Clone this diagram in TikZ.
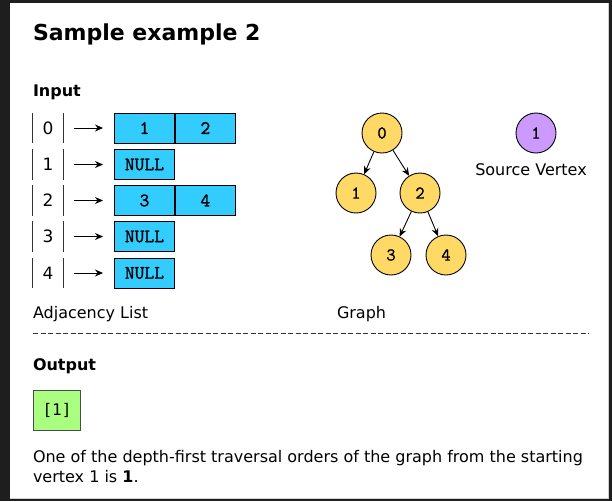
\documentclass[tikz,border=0pt]{standalone}
\usepackage{fontspec}
\setmainfont{DejaVu Sans}
\newfontfamily\codefont[FakeBold=1.2]{Latin Modern Mono}
\newfontfamily\brfont{DejaVu Sans Mono}
\usetikzlibrary{arrows.meta}
\definecolor{darkbg}{HTML}{1E1E1E}
\definecolor{edgegray}{HTML}{D0D0D0}
\definecolor{cellblue}{HTML}{33CCFF}
\definecolor{vyellow}{HTML}{FFD966}
\definecolor{vpurple}{HTML}{CC99FF}
\definecolor{outgreen}{HTML}{AAFF80}
\tikzset{
  txt/.style={inner sep=0pt, outer sep=0pt},
  idxcell/.style={minimum width=30pt, minimum height=30pt, inner sep=0pt, font=\fontsize{17}{19}\selectfont},
  cellbox/.style={draw=black, line width=0.9pt, fill=cellblue, minimum width=60pt, minimum height=30pt, inner sep=0pt, anchor=west, font=\codefont\fontsize{19}{21}\selectfont},
  vertex/.style={circle, draw=black, line width=0.9pt, fill=vyellow, minimum size=40pt, inner sep=0pt, font=\codefont\fontsize{18}{20}\selectfont},
  listarrow/.style={-{Stealth[length=8pt,width=7pt]}, line width=1pt},
  graphedge/.style={-{Stealth[length=8pt,width=7pt]}, line width=0.9pt},
  bar/.style={line width=0.9pt, draw=black!80},
  body/.style={txt, font=\fontsize{16}{19}\selectfont},
}
\begin{document}
\begin{tikzpicture}[x=1pt,y=-1pt]
\useasboundingbox (0,0) rectangle (612,501);
\fill[darkbg] (0,0) rectangle (612,501);
\fill[white] (10,3) rectangle (608,498);
\draw[edgegray, line width=1pt] (608.5,3) -- (608.5,498.5) -- (10,498.5);

\node[txt, anchor=base west, font=\bfseries\fontsize{22}{26}\selectfont] (title) at (33,40) {Sample example 2};
\node[txt, anchor=base west, font=\bfseries\fontsize{16}{18}\selectfont] (input) at (33,96) {Input};

% adjacency list
\foreach \i/\y in {0/128,1/164.5,2/200.5,3/236.5,4/273} {
  \node[idxcell] (idx\i) at (48,\y) {\i};
  \draw[bar] (idx\i.north west) -- (idx\i.south west);
  \draw[bar] (idx\i.north east) -- (idx\i.south east);
}
\node[cellbox] (c00) at (114,128) {1};
\node[cellbox] (c01) at (c00.east) {2};
\node[cellbox] (c10) at (114,164.5) {NULL};
\node[cellbox] (c20) at (114,200.5) {3};
\node[cellbox] (c21) at (c20.east) {4};
\node[cellbox] (c30) at (114,236.5) {NULL};
\node[cellbox] (c40) at (114,273) {NULL};
\draw[listarrow] ([xshift=11pt]idx0.east) -- ([xshift=-11pt]c00.west);
\draw[listarrow] ([xshift=11pt]idx1.east) -- ([xshift=-11pt]c10.west);
\draw[listarrow] ([xshift=11pt]idx2.east) -- ([xshift=-11pt]c20.west);
\draw[listarrow] ([xshift=11pt]idx3.east) -- ([xshift=-11pt]c30.west);
\draw[listarrow] ([xshift=11pt]idx4.east) -- ([xshift=-11pt]c40.west);

% graph
\node[vertex] (g0) at (382,133) {0};
\node[vertex] (g1) at (356,193) {1};
\node[vertex] (g2) at (420,193) {2};
\node[vertex] (g3) at (391,255) {3};
\node[vertex] (g4) at (446,255) {4};
\draw[graphedge] (g0) -- (g1);
\draw[graphedge] (g0) -- (g2);
\draw[graphedge] (g2) -- (g3);
\draw[graphedge] (g2) -- (g4);
\node[vertex, fill=vpurple] (src) at (536,133) {1};
\node[body] (srclabel) at (531,170) {Source Vertex};

\node[body, anchor=west] (adjlabel) at (33,314) {Adjacency List};
\node[body, anchor=west] (graphlabel) at (337,314) {Graph};
\coordinate (dl) at (33,333);
\coordinate (dr) at (589,333);
\draw[dash pattern=on 5pt off 2.5pt, line width=0.8pt, draw=black!80] (dl) -- (dr);

\node[txt, anchor=base west, font=\bfseries\fontsize{16}{18}\selectfont] (output) at (33,370) {Output};
\node[draw=black!70, line width=0.8pt, fill=outgreen, minimum width=47pt, minimum height=40pt, inner sep=0pt, font=\brfont\fontsize{16}{18}\selectfont] (res) at (57,410) {[1]};

\node[body, anchor=base west] (expl) at (33,462) {One of the depth-first traversal orders of the graph from the starting};
\node[body, anchor=base west] (expl2) at (33,482) {vertex 1 is \textbf{1}.};
\end{tikzpicture}
\end{document}
